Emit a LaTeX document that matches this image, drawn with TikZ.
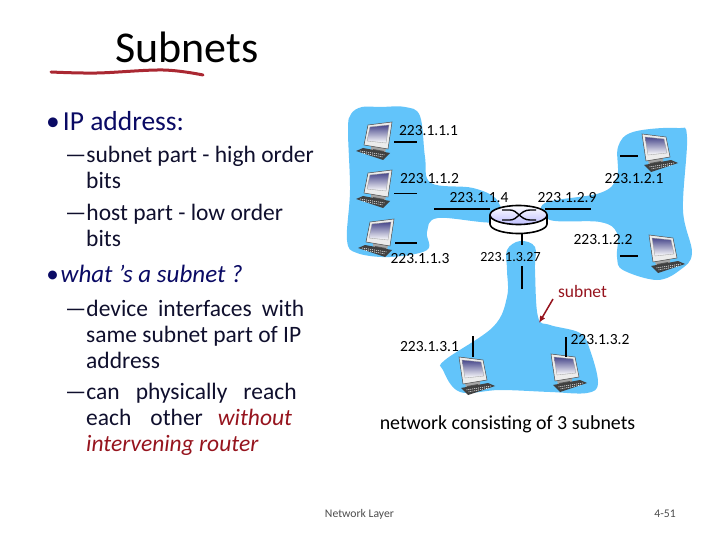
\documentclass[tikz,border=0pt]{standalone}
\usepackage{fontspec}
\setmainfont{Carlito}
\usetikzlibrary{arrows.meta}
\definecolor{subnetblue}{RGB}{98,196,250}
\definecolor{slidenavy}{RGB}{10,10,100}
\definecolor{bodyink}{RGB}{15,15,45}
\definecolor{marker}{RGB}{170,40,50}
\definecolor{darkred}{RGB}{150,20,30}
\tikzset{
  bodyline/.style={anchor=base west,font=\fontsize{23.5}{26}\selectfont,text=bodyink,inner sep=0pt},
  headline/.style={anchor=base west,font=\fontsize{25}{28}\selectfont,text=slidenavy,inner sep=0pt},
  addr/.style={font=\fontsize{15.5}{18}\selectfont,inner sep=0pt},
  iface/.style={line width=1.6pt,black},
  pics/computer/.style={code={
    \fill[gray!70] (3,20) -- (18,23) -- (17,28) -- (3,26) -- cycle;
    \fill[black!65] (5,24) -- (16,26) -- (16,29) -- (5,27) -- cycle;
    \fill[black!75] (-12,26) -- (-5,23) -- (22,28) -- (15,35) -- cycle;
    \draw[white,line width=0.6pt,dash pattern=on 1pt off 1pt] (-8,26) -- (17,30) (-6,28) -- (15,32);
    \draw[black!70,fill=gray!15,line width=0.5pt] (0,0) -- (24,-3) -- (20,24) -- (-4,20) -- cycle;
    \path[top color=slidenavy!75,bottom color=white,draw=black!40,line width=0.3pt] (2,2) -- (21,0) -- (18,18) -- (-1,16) -- cycle;
  }}
}
\begin{document}
\begin{tikzpicture}[x=1pt,y=-1pt]
\useasboundingbox (0,0) rectangle (720,540);
% blue areas
\fill[subnetblue] plot[smooth cycle,tension=0.6] coordinates {(351,114) (362,107) (380,107) (405,107) (420,116) (425,157) (431,183) (473,188) (497,200) (497,222) (438,218) (427,232) (427,250) (390,257) (357,253) (347,240) (350,190) (348,130)};
\fill[subnetblue] plot[smooth cycle,tension=0.6] coordinates {(545,203) (600,193) (617,177) (618,147) (633,132) (677,128) (687,137) (683,210) (692,253) (680,270) (657,280) (623,270) (617,257) (617,233) (600,222) (550,220)};
\fill[subnetblue] plot[smooth cycle,tension=0.6] coordinates {(507,250) (520,241) (535,247) (535,270) (538,317) (550,325) (580,333) (590,350) (598,383) (587,393) (550,392) (500,390) (460,392) (443,370) (445,360) (493,327) (507,297) (507,270)};
% computers
\foreach \px/\py in {368/125,368/173,370/222}
  \pic at (\px,\py) {computer};
\foreach \px/\py in {666/137,673/238,483/360,575/357}
  \pic[xscale=-1] at (\px,\py) {computer};
% router
\node[minimum width=57pt,minimum height=29pt,inner sep=0pt] (rtr) at (518.5,219) {};
\draw[line width=1.6pt,fill=white] (490,215) -- (490,224) arc[start angle=180,end angle=360,x radius=28.5pt,y radius=9.5pt] -- (547,215);
\draw[line width=1.6pt,top color=white,bottom color=blue!25] (518.5,215) ellipse[x radius=28.5pt,y radius=9.5pt];
\draw[line width=1.4pt] (502,210) -- (510,210) .. controls (518,210) and (520,220) .. (530,220) -- (536,220);
\draw[line width=1.4pt] (502,220) -- (510,220) .. controls (518,220) and (520,210) .. (530,210) -- (536,210);
% interfaces
\coordinate (ifa) at (394,142); \coordinate (ifb) at (417,142);
\coordinate (ifc) at (394,193.5); \coordinate (ifd) at (417,193.5);
\coordinate (ife) at (395,243); \coordinate (iff) at (417,243);
\coordinate (ifg) at (620,156); \coordinate (ifh) at (638,156);
\coordinate (ifi) at (620,256); \coordinate (ifj) at (638,256);
\coordinate (ifk) at (473,336); \coordinate (ifl) at (473,357);
\coordinate (ifm) at (565.5,337); \coordinate (ifn) at (565.5,357);
\coordinate (lka) at (434,209); \coordinate (lkb) at (490,209);
\coordinate (lkc) at (545,209); \coordinate (lkd) at (591,209);
\coordinate (lke) at (521.5,266); \coordinate (lkf) at (521.5,289);
\coordinate (lkg) at (521.5,245);
\draw[iface] (ifa) -- (ifb);
\draw[iface] (ifc) -- (ifd);
\draw[iface] (ife) -- (iff);
\draw[iface] (ifg) -- (ifh);
\draw[iface] (ifi) -- (ifj);
\draw[iface] (ifk) -- (ifl);
\draw[iface,line width=2pt] (ifm) -- (ifn);
\draw[iface] (lka) -- (lkb);
\draw[iface] (lkc) -- (lkd);
\draw[iface,line width=2pt] (rtr.south -| lke) -- (lkg);
\draw[iface,line width=2pt] (lke) -- (lkf);
% addresses
\node[addr] (aa) at (428.5,131) {223.1.1.1};
\node[addr] (ab) at (429.5,179) {223.1.1.2};
\node[addr] (ac) at (479,198) {223.1.1.4};
\node[addr] (ad) at (567,198) {223.1.2.9};
\node[addr] (ae) at (634,179) {223.1.2.1};
\node[addr] (af) at (603,240) {223.1.2.2};
\node[addr] (ag) at (420,258.5) {223.1.1.3};
\node[addr,font=\fontsize{14}{16}\selectfont] (ah) at (510.5,257) {223.1.3.27};
\node[addr] (ai) at (429.5,347) {223.1.3.1};
\node[addr] (aj) at (600,340) {223.1.3.2};
\node[addr,font=\fontsize{17.5}{20}\selectfont,text=darkred] (sn) at (582.5,291) {subnet};
\coordinate (tipa) at (553,299); \coordinate (tipb) at (539,323);
\draw[-{Latex[length=7pt,width=6pt]},darkred,line width=1.5pt] (tipa) -- (tipb);
\node[font=\fontsize{19.9}{22}\selectfont,inner sep=0pt] (cap) at (507.5,424) {network consisting of 3 subnets};
% title
\node[font=\fontsize{44}{48}\selectfont,inner sep=0pt] (title) at (187,47) {Subnets};
\draw[marker,line width=3pt,line cap=round] plot[smooth,tension=0.6] coordinates {(51,72) (97,73) (163,70) (203,75)};
% text
\node[headline,font=\fontsize{27.5}{30}\selectfont] (ta) at (46,131) {•\hspace{3pt}IP address:};
\node[bodyline] (tb) at (65,163) {—subnet part - high order};
\node[bodyline] (tc) at (86,189) {bits};
\node[bodyline] (td) at (65,221) {—host part - low order};
\node[bodyline] (te) at (86,247) {bits};
\node[headline,font=\fontsize{25}{28}\selectfont\itshape] (tf) at (46,282) {•\hspace{2pt}what ’s a subnet ?};
\node[bodyline] (tg) at (65,316) {—device\hspace{10pt}interfaces\hspace{10pt}with};
\node[bodyline] (th) at (86,342) {same subnet part of IP};
\node[bodyline] (ti) at (86,368) {address};
\node[bodyline] (tj) at (65,399) {—can\hspace{16pt}physically\hspace{16pt}reach};
\node[bodyline] (tk) at (86,425) {each\hspace{19pt}other\hspace{15pt}\textcolor{darkred}{\itshape without}};
\node[bodyline,text=darkred,font=\fontsize{23.5}{26}\selectfont\itshape] (tl) at (86,451) {intervening router};
% footer
\node[font=\fontsize{11.7}{13}\selectfont,text=black!70,inner sep=0pt] (fa) at (359.5,514) {Network Layer};
\node[font=\fontsize{11.7}{13}\selectfont,text=black!70,inner sep=0pt] (fb) at (665,514) {4-51};
\end{tikzpicture}
\end{document}
